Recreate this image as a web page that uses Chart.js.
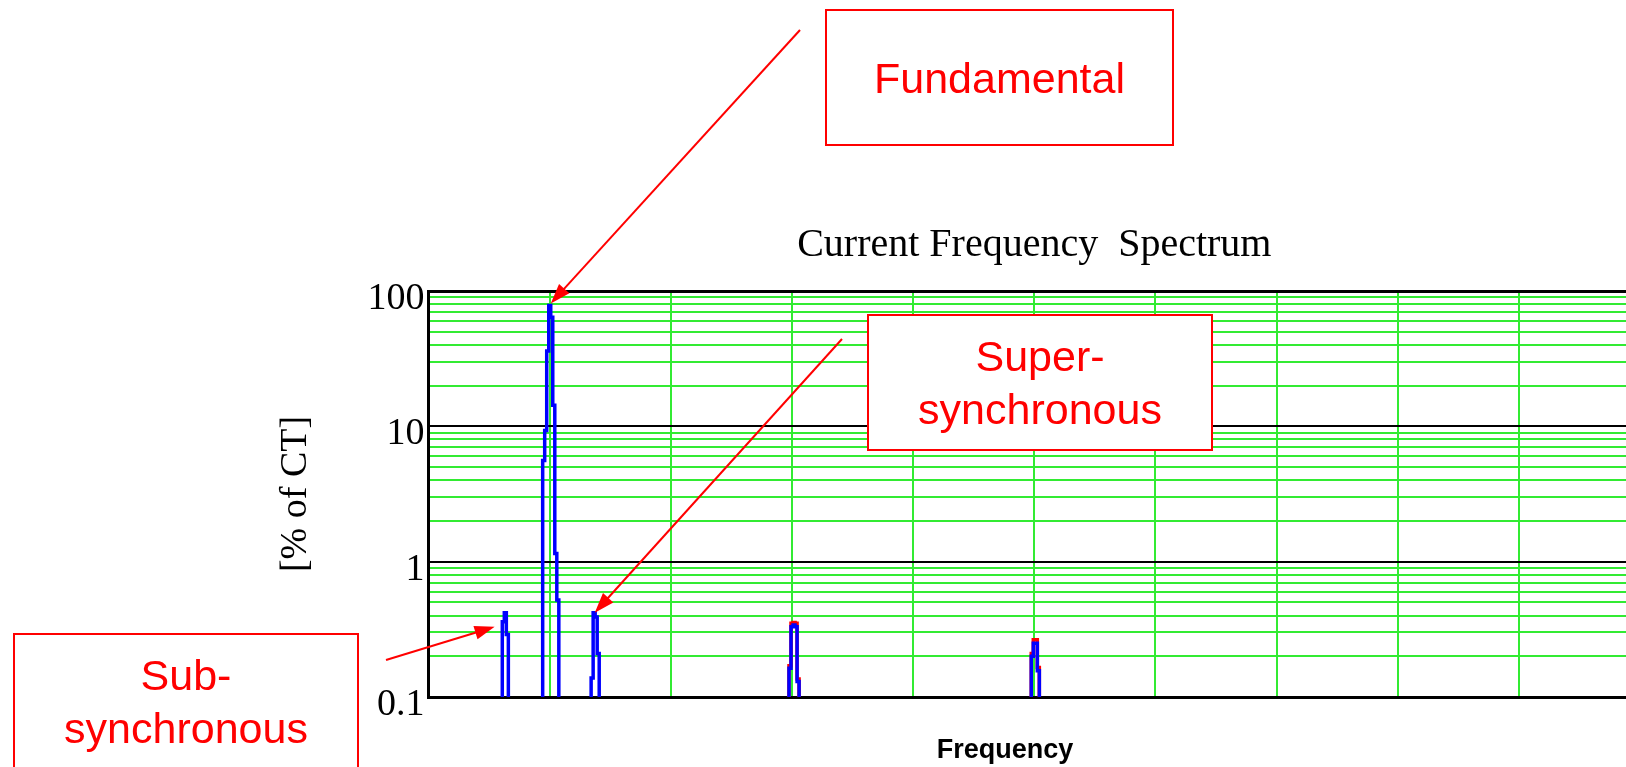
<!DOCTYPE html>
<html>
<head>
<meta charset="utf-8">
<title>Current Frequency Spectrum</title>
<script src="https://cdn.jsdelivr.net/npm/chart.js@4.4.1/dist/chart.umd.min.js"></script>
<style>
  html, body { margin: 0; padding: 0; background: #fff; overflow: hidden; }
  #wrap { width: 1660px; height: 767px; }
</style>
</head>
<body>
<div id="wrap"><canvas id="spectrum" width="1660" height="767"></canvas></div>
<script>
// ---------------- data ----------------
// bin frequency (Hz) and magnitude (% of CT); NOISE sits below the 0.1 floor
const NOISE = 0.01;

// blue trace
const traceFreq = [0, 36, 37, 38, 39, 40,
  56, 57, 58, 59, 60, 61, 62, 63, 64, 65,
  80, 81, 82, 83, 84, 85,
  178, 179, 180, 181, 182, 183, 184,
  298, 299, 300, 301, 302, 303, 600];
const tracePct = [NOISE, NOISE, 0.36, 0.42, 0.29, NOISE,
  NOISE, 5.6, 9.3, 36, 78, 64, 14.3, 1.15, 0.52, NOISE,
  NOISE, 0.138, 0.42, 0.39, 0.21, NOISE,
  NOISE, 0.163, 0.33, 0.34, 0.33, 0.13, NOISE,
  NOISE, 0.20, 0.25, 0.25, 0.156, NOISE, NOISE];

// red trace (only shows at the 180 / 300 Hz harmonics, under the blue one)
const trace2Freq = [0, 178, 179, 180, 181, 182, 183, 184, 298, 299, 300, 301, 302, 303, 600];
const trace2Pct = [NOISE, NOISE, 0.17, 0.35, 0.355, 0.35, 0.136, NOISE,
  NOISE, 0.21, 0.265, 0.265, 0.165, NOISE, NOISE];

// axes
const yTickValues = [0.1, 1, 10, 100];
const xGridStep = 60;
const xMax = 600;
const xTitle = 'Frequency';

// callouts: label lines and the point (Hz, %) each arrow points at
const calloutText = [['Fundamental'], ['Super-', 'synchronous'], ['Sub-', 'synchronous']];
const calloutFreq = [60.5, 82.3, 32.7];
const calloutPct = [81, 0.42, 0.33];

// ---------------- layout / style ----------------
const GREEN = 'rgb(50,235,50)';
const RED = '#ff0000';
const SERIF = '"Liberation Serif", "Times New Roman", serif';
const SANS = '"Liberation Sans", Arial, sans-serif';

// box rectangles and arrow tails in canvas pixels
const calloutBoxes = [
  { x: 826, y: 10, w: 347, h: 135, tail: [800, 30] },
  { x: 868, y: 315, w: 344, h: 135, tail: [842, 339] },
  { x: 14, y: 634, w: 344, h: 135, tail: [386, 660] }
];
// x axis label sits a bit left of the plot centre in the original
const xTitlePos = { x: 1005, y: 758 };

// minor grid lines 2..9 inside each decade
const yGridValues = [];
yTickValues.slice(0, -1).forEach(d => {
  for (let m = 1; m <= 9; m++) yGridValues.push(d * m);
});
yGridValues.push(yTickValues[yTickValues.length - 1]);

const isDecade = v => yTickValues.includes(v);

// x label, boxes + arrows drawn on top of the chart
const callouts = {
  id: 'callouts',
  afterDraw(chart) {
    const ctx = chart.ctx;
    const xs = chart.scales.x;
    const ys = chart.scales.y;
    ctx.save();

    ctx.fillStyle = '#000';
    ctx.font = 'bold 27px ' + SANS;
    ctx.textAlign = 'center';
    ctx.textBaseline = 'alphabetic';
    ctx.fillText(xTitle, xTitlePos.x, xTitlePos.y);

    calloutBoxes.forEach((b, i) => {
      const tipX = xs.getPixelForValue(calloutFreq[i]);
      const tipY = ys.getPixelForValue(calloutPct[i]);
      const [tx, ty] = b.tail;
      const ang = Math.atan2(tipY - ty, tipX - tx);
      const c = Math.cos(ang), s = Math.sin(ang);

      // shaft
      ctx.strokeStyle = RED;
      ctx.lineWidth = 2;
      ctx.beginPath();
      ctx.moveTo(tx, ty);
      ctx.lineTo(tipX - c * 16, tipY - s * 16);
      ctx.stroke();

      // head
      ctx.fillStyle = RED;
      ctx.beginPath();
      ctx.moveTo(tipX, tipY);
      ctx.lineTo(tipX - 20 * c + 7 * s, tipY - 20 * s - 7 * c);
      ctx.lineTo(tipX - 20 * c - 7 * s, tipY - 20 * s + 7 * c);
      ctx.closePath();
      ctx.fill();

      // box
      ctx.fillStyle = '#fff';
      ctx.fillRect(b.x, b.y, b.w, b.h);
      ctx.strokeRect(b.x, b.y, b.w, b.h);

      // label
      const lines = calloutText[i];
      const cy = b.y + b.h / 2;
      ctx.fillStyle = RED;
      ctx.font = '43px ' + SANS;
      lines.forEach((t, k) => {
        ctx.fillText(t, b.x + b.w / 2, cy - (lines.length - 1) * 53 / 2 + 15.4 + k * 53);
      });
    });
    ctx.restore();
  }
};

const toPoints = (xs, ys) => xs.map((f, i) => ({ x: f, y: ys[i] }));

new Chart(document.getElementById('spectrum'), {
  type: 'line',
  data: {
    datasets: [
      // first dataset is painted on top
      {
        label: 'trace 1',
        data: toPoints(traceFreq, tracePct),
        borderColor: '#0000ff',
        borderWidth: 3.5,
        pointRadius: 0,
        stepped: 'middle'
      },
      {
        label: 'trace 2',
        data: toPoints(trace2Freq, trace2Pct),
        borderColor: RED,
        borderWidth: 3.5,
        pointRadius: 0,
        stepped: 'middle'
      }
    ]
  },
  options: {
    responsive: false,
    animation: false,
    layout: { padding: { left: 273, right: 20, top: 0, bottom: 70 } },
    plugins: {
      legend: { display: false },
      tooltip: { enabled: false },
      title: {
        display: true,
        text: 'Current Frequency  Spectrum',
        fullSize: false,
        color: '#000',
        font: { family: SERIF, size: 40, weight: 'normal' },
        padding: { top: 221, bottom: 22 }
      }
    },
    scales: {
      x: {
        type: 'linear',
        min: 0,
        max: xMax,
        ticks: { display: false, stepSize: xGridStep },
        grid: { color: GREEN, lineWidth: 2, drawTicks: false },
        border: { color: '#000', width: 3 }
      },
      y: {
        type: 'logarithmic',
        min: 0.1,
        max: 100,
        afterBuildTicks: scale => {
          scale.ticks = yGridValues.map(v => ({ value: v }));
        },
        ticks: {
          autoSkip: false,
          color: '#000',
          font: { family: SERIF, size: 38 },
          padding: 4,
          labelOffset: 8,
          callback: value => (isDecade(value) ? String(value) : '')
        },
        grid: {
          drawTicks: false,
          color: c => (isDecade(c.tick.value) ? '#000' : GREEN),
          lineWidth: c => (c.tick.value === 100 ? 3 : 2)
        },
        border: { color: '#000', width: 3 },
        title: {
          display: true,
          text: '[% of CT]',
          color: '#000',
          font: { family: SERIF, size: 38 },
          padding: { top: 0, bottom: 45 }
        }
      }
    }
  },
  plugins: [callouts]
});
</script>
</body>
</html>
